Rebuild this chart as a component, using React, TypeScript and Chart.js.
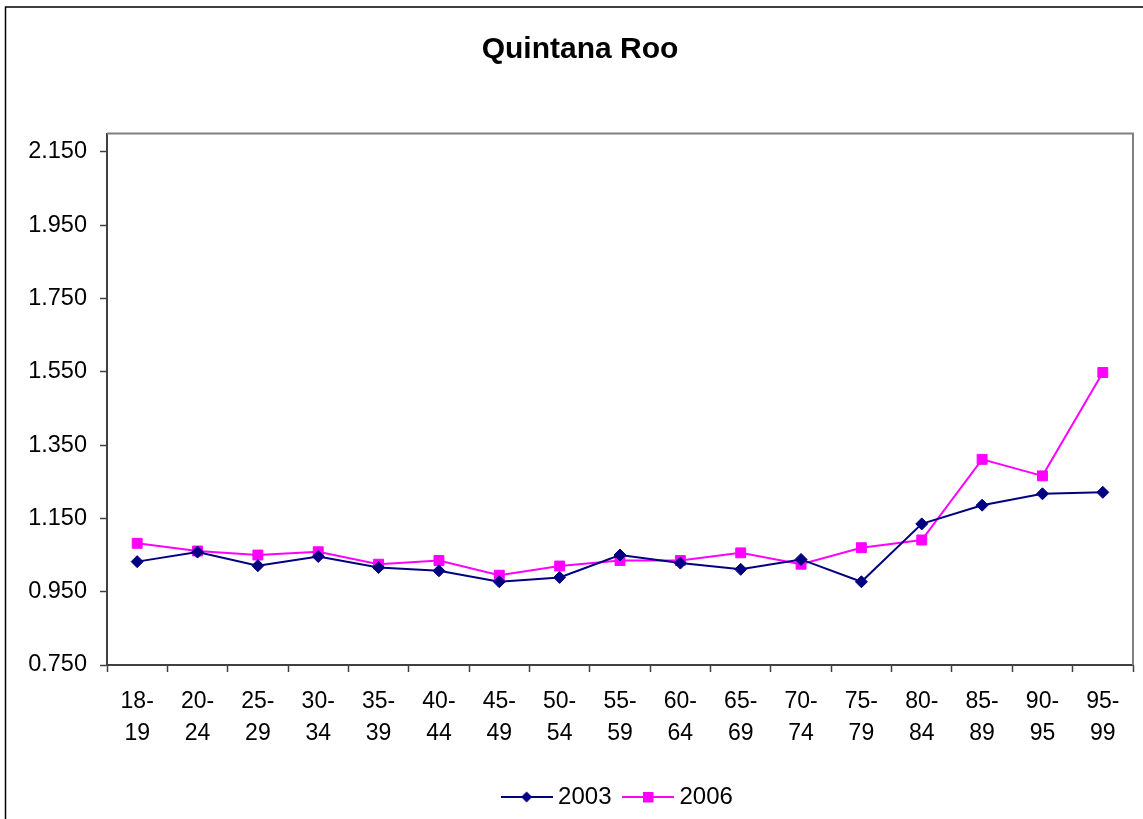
import { useEffect, useRef } from "react";
import { Chart, registerables } from "chart.js";

Chart.register(...registerables);

const categories: string[][] = [
  ["18-", "19"], ["20-", "24"], ["25-", "29"], ["30-", "34"], ["35-", "39"],
  ["40-", "44"], ["45-", "49"], ["50-", "54"], ["55-", "59"], ["60-", "64"],
  ["65-", "69"], ["70-", "74"], ["75-", "79"], ["80-", "84"], ["85-", "89"],
  ["90-", "95"], ["95-", "99"],
];

const values2003 = [
  1.032, 1.058, 1.021, 1.046, 1.016, 1.007, 0.977, 0.989, 1.05, 1.028,
  1.011, 1.038, 0.977, 1.135, 1.186, 1.217, 1.221,
];

const values2006 = [
  1.082, 1.061, 1.05, 1.059, 1.025, 1.035, 0.995, 1.02, 1.035, 1.035,
  1.056, 1.025, 1.07, 1.091, 1.311, 1.266, 1.548,
];

const yTicks = [0.75, 0.95, 1.15, 1.35, 1.55, 1.75, 1.95, 2.15];
const seriesNames = ["2003", "2006"];
const chartTitle = "Quintana Roo";

const NAVY = "#000080";
const MAGENTA = "#FF00FF";
const FONT = "'Liberation Sans', Arial, sans-serif";

function legendIcon(color: string, kind: "diamond" | "square") {
  const c = document.createElement("canvas");
  c.width = 52;
  c.height = 14;
  const ctx = c.getContext("2d")!;
  ctx.strokeStyle = color;
  ctx.lineWidth = 2;
  ctx.beginPath();
  ctx.moveTo(0, 7);
  ctx.lineTo(52, 7);
  ctx.stroke();
  ctx.fillStyle = color;
  if (kind === "diamond") {
    ctx.beginPath();
    ctx.moveTo(26, 1.5);
    ctx.lineTo(31.5, 7);
    ctx.lineTo(26, 12.5);
    ctx.lineTo(20.5, 7);
    ctx.closePath();
    ctx.fill();
  } else {
    ctx.fillRect(21, 2, 10.5, 10.5);
  }
  return c;
}

const framePlugin = {
  id: "frame",
  beforeDraw(chart: any) {
    const { ctx, width, height } = chart;
    ctx.save();
    ctx.fillStyle = "#ffffff";
    ctx.fillRect(0, 0, width, height);
    ctx.restore();
  },
  afterDraw(chart: any) {
    const { ctx, chartArea } = chart;
    const { left, top, right, bottom } = chartArea;
    ctx.save();
    ctx.strokeStyle = "#808080";
    ctx.lineWidth = 2;
    ctx.beginPath();
    ctx.moveTo(left, top);
    ctx.lineTo(right, top);
    ctx.lineTo(right, bottom);
    ctx.stroke();
    ctx.strokeStyle = "#000000";
    ctx.lineWidth = 1.5;
    ctx.strokeRect(5.5, 7, 1400, 1100);
    ctx.restore();
  },
};

export default function App() {
  const ref = useRef<HTMLCanvasElement | null>(null);

  useEffect(() => {
    if (!ref.current) return;
    const icons = [legendIcon(NAVY, "diamond"), legendIcon(MAGENTA, "square")];
    const chart = new Chart(ref.current, {
      type: "line",
      data: {
        labels: categories,
        datasets: [
          {
            label: seriesNames[0],
            data: values2003,
            borderColor: NAVY,
            backgroundColor: NAVY,
            borderWidth: 2,
            pointStyle: "rectRot",
            pointRadius: 6,
            pointBorderWidth: 1,
            pointBackgroundColor: NAVY,
            pointBorderColor: NAVY,
            tension: 0,
          },
          {
            label: seriesNames[1],
            data: values2006,
            borderColor: MAGENTA,
            backgroundColor: MAGENTA,
            borderWidth: 2,
            pointStyle: "rect",
            pointRadius: 7,
            pointBorderWidth: 1,
            pointBackgroundColor: MAGENTA,
            pointBorderColor: MAGENTA,
            tension: 0,
          },
        ],
      },
      options: {
        responsive: false,
        animation: false,
        layout: { padding: { left: 27, right: 10, top: 0, bottom: 0 } },
        plugins: {
          title: {
            display: true,
            text: chartTitle,
            color: "#000",
            font: { family: FONT, size: 30, weight: "bold", lineHeight: 1.2 },
            padding: { top: 32, bottom: 65.5 },
          },
          legend: {
            position: "bottom",
            fullSize: false,
            labels: {
              color: "#000",
              font: { family: FONT, size: 24 },
              usePointStyle: true,
              pointStyleWidth: 39,
              padding: 17,
              generateLabels(chart: any) {
                const items = (Chart.defaults.plugins.legend.labels as any).generateLabels(chart);
                items.forEach((it: any, i: number) => {
                  it.pointStyle = icons[i];
                });
                return items;
              },
            },
          },
          tooltip: { enabled: false },
        },
        scales: {
          x: {
            offset: true,
            grid: {
              offset: true,
              drawOnChartArea: false,
              tickLength: 7,
              tickColor: "#404040",
              tickWidth: 1.5,
            },
            border: { color: "#404040", width: 2 },
            ticks: {
              color: "#000",
              font: { family: FONT, size: 23, lineHeight: 1.38 },
              padding: 14,
              maxRotation: 0,
              autoSkip: false,
            },
            afterFit(scale: any) {
              scale.height = 103;
            },
          },
          y: {
            min: 0.75,
            max: 2.2,
            grid: {
              drawOnChartArea: false,
              tickLength: 7,
              tickColor: "#404040",
              tickWidth: 1.5,
            },
            border: { color: "#404040", width: 2 },
            ticks: {
              color: "#000",
              font: { family: FONT, size: 23.5 },
              padding: 13,
              callback: (v: any) => Number(v).toFixed(3),
            },
            afterBuildTicks(scale: any) {
              scale.ticks = yTicks.map((v) => ({ value: v }));
            },
            afterFit(scale: any) {
              scale.width = 80;
            },
          },
        },
      },
      plugins: [framePlugin],
    });
    return () => chart.destroy();
  }, []);

  return (
    <div style={{ position: "absolute", left: 0, top: 0, width: 1143, height: 819, background: "#fff" }}>
      <canvas ref={ref} width={1143} height={819} style={{ display: "block" }} />
    </div>
  );
}
